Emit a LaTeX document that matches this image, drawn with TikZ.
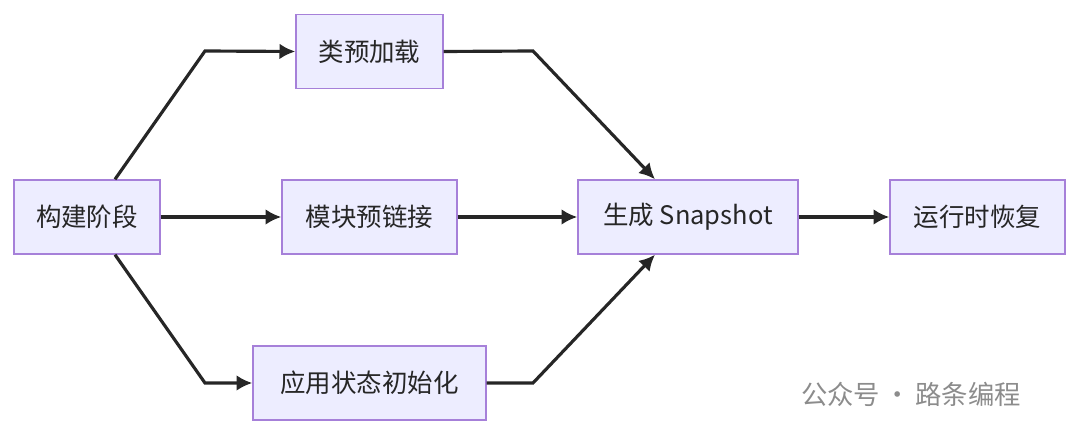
\documentclass[tikz,border=0pt]{standalone}
\usepackage{fontspec}
\setmainfont{Liberation Sans}
\newfontfamily\cjk{Noto Sans CJK SC}
\usetikzlibrary{arrows.meta}
\begin{document}
\begin{tikzpicture}[x=0.02cm,y=-0.02cm,
  box/.style={draw=violet!60!blue!50!white,fill=blue!7,line width=0.8pt,minimum height=1.48cm,inner xsep=0pt,font=\cjk\fontsize{14.5}{16}\selectfont},
  edge/.style={line width=1.8pt,draw=black!85,-{Latex[length=9pt,width=9pt]}},
  every node/.style={text=black!85}]
\useasboundingbox (0,0) rectangle (1080,435);
\node[box,minimum width=2.92cm] (a) at (87,217) {构建阶段};
\node[box,minimum width=2.94cm] (b) at (369.5,51.5) {类预加载};
\node[box,minimum width=3.5cm] (c) at (369.5,217) {模块预链接};
\node[box,minimum width=4.66cm] (d) at (369.5,383) {应用状态初始化};
\node[box,minimum width=4.4cm] (e) at (688,217) {生成 Snapshot};
\node[box,minimum width=3.5cm] (f) at (977.5,217) {运行时恢复};
\coordinate (a1) at (205,51); \coordinate (a2) at (205,383);
\coordinate (b1) at (533,51); \coordinate (d1) at (533,383);
\draw[edge] (a.north -| 115,0) -- (a1) -- (b.west);
\draw[edge] (a.east) -- (c.west);
\draw[edge] (a.south -| 115,0) -- (a2) -- (d.west);
\draw[edge] (b.east) -- (b1) -- (e.north -| 655,0);
\draw[edge] (c.east) -- (e.west);
\draw[edge] (d.east) -- (d1) -- (e.south -| 655,0);
\draw[edge] (e.east) -- (f.west);
\node[text=black!45,font=\cjk\fontsize{15}{17}\selectfont,anchor=west] (w) at (795,394) {公众号\,·\,路条编程};
\end{tikzpicture}
\end{document}
